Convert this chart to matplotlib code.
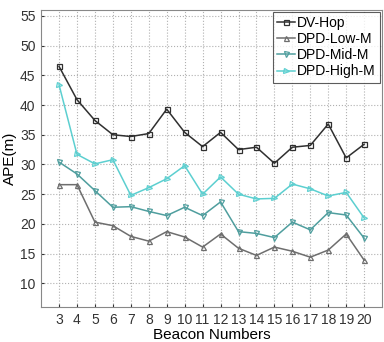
import numpy as np
import matplotlib
matplotlib.use('Agg')
import matplotlib.pyplot as plt

plt.rcParams['font.family'] = ['Liberation Sans', 'DejaVu Sans']

beacons = np.arange(3, 21)
dv_hop = [46.5, 40.9, 37.4, 35.0, 34.7, 35.2, 39.3, 35.4, 33.0, 35.4,
          32.5, 32.9, 30.2, 32.9, 33.2, 36.8, 31.1, 33.4]
dpd_low = [26.6, 26.6, 20.3, 19.7, 17.9, 17.1, 18.7, 17.8, 16.1, 18.3,
           15.9, 14.7, 16.1, 15.4, 14.4, 15.6, 18.3, 13.9]
dpd_mid = [30.4, 28.4, 25.6, 22.8, 22.9, 22.1, 21.4, 22.8, 21.4, 23.7,
           18.7, 18.4, 17.7, 20.3, 19.0, 21.9, 21.5, 17.6]
dpd_high = [43.4, 31.7, 30.1, 30.8, 24.8, 26.1, 27.6, 29.8, 25.0, 27.9,
            25.0, 24.2, 24.3, 26.7, 25.9, 24.7, 25.3, 21.0]

series = [
    ('DV-Hop', dv_hop, '#303030', 's'),
    ('DPD-Low-M', dpd_low, '#6e6e6e', '^'),
    ('DPD-Mid-M', dpd_mid, '#4f9e9e', 'v'),
    ('DPD-High-M', dpd_high, '#5ccfd0', '>'),
]

fig = plt.figure(figsize=(3.84, 3.42), dpi=100)
ax = fig.add_axes([0.107, 0.102, 0.888, 0.869])

for name, vals, col, mk in series:
    ax.plot(beacons, vals, color=col, marker=mk, markersize=3.6,
            markerfacecolor='none', markeredgecolor=col, markeredgewidth=0.9,
            linewidth=1.1, label=name)

ax.set_xlim(2, 21)
ax.set_ylim(6, 56)
ax.set_xticks(beacons)
ax.set_yticks(np.arange(10, 56, 5))
ax.grid(True, linestyle=':', color='#b0b0b0', linewidth=0.8)
ax.tick_params(direction='in', length=2, labelsize=10, colors='#333333',
               pad=4)
for sp in ax.spines.values():
    sp.set_color('#888888')
    sp.set_linewidth(0.8)

ax.set_xlabel('Beacon Numbers', fontsize=11, labelpad=1)
ax.set_ylabel('APE(m)', fontsize=11, labelpad=2)

leg = ax.legend(loc='upper right', fontsize=10, frameon=True, fancybox=False,
                borderaxespad=0.15, handlelength=1.3, handletextpad=0.15,
                labelspacing=0.15, borderpad=0.3)
leg.get_frame().set_edgecolor('#333333')
leg.get_frame().set_linewidth(0.8)

fig.savefig('out.png', dpi=100)
